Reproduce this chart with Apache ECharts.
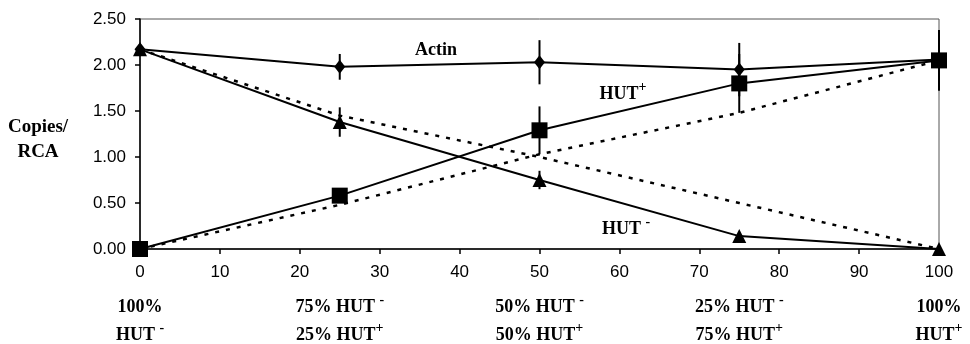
<!DOCTYPE html>
<html>
<head>
<meta charset="utf-8">
<script src="https://cdn.jsdelivr.net/npm/echarts@6.0.0/dist/echarts.min.js"></script>
<style>
  html, body { margin: 0; padding: 0; background: #fff; }
  #chart { width: 970px; height: 344px; }
</style>
</head>
<body>
<div id="chart"></div>
<script>
// mixing ratio (% HUT+) on the x axis
const xValues = [0, 25, 50, 75, 100];

// measured copies / RCA
const actin = [2.17, 1.98, 2.03, 1.95, 2.06];
const actinErr = [0, 0.14, 0.24, 0.29, 0];
const hutPlus = [0.00, 0.58, 1.29, 1.80, 2.05];
const hutPlusErr = [0, 0.06, 0.26, 0.32, 0.33];
const hutMinus = [2.17, 1.38, 0.75, 0.14, 0.00];
const hutMinusErr = [0, 0.16, 0.10, 0, 0];

// expected (dotted) lines
const expectedPlus = [0.00, 0.48, 1.03, 1.48, 2.05];
const expectedMinus = [2.17, 1.45, 1.00, 0.50, 0.00];

// composition labels under the axis
const mixTop = ['{b|100%}', '{b|75% HUT }{s|-}', '{b|50% HUT }{s|-}', '{b|25% HUT }{s|-}', '{b|100%}'];
const mixBottom = ['{b|HUT }{s|-}', '{b|25% HUT}{s|+}', '{b|50% HUT}{s|+}', '{b|75% HUT}{s|+}', '{b|HUT}{s|+}'];

const serif = '"Liberation Serif", "Times New Roman", serif';
const sans = '"Liberation Sans", Arial, sans-serif';

const richSup = {
    b: { fontFamily: serif, fontWeight: 'bold', fontSize: 18, lineHeight: 28, color: '#000' },
    s: { fontFamily: serif, fontWeight: 'bold', fontSize: 14, lineHeight: 8, verticalAlign: 'top', color: '#000' }
};

function pairs(ys) {
    return xValues.map((x, i) => [x, ys[i]]);
}

function errData(ys, errs) {
    const out = [];
    for (let i = 0; i < xValues.length; i++) {
        if (errs[i] > 0) out.push([xValues[i], ys[i] - errs[i], ys[i] + errs[i]]);
    }
    return out;
}

function errorSeries(ys, errs) {
    return {
        type: 'custom',
        xAxisIndex: 0,
        data: errData(ys, errs),
        z: 3,
        renderItem: function (params, api) {
            const x = api.value(0);
            const lo = api.coord([x, api.value(1)]);
            const hi = api.coord([x, api.value(2)]);
            return {
                type: 'line',
                shape: { x1: lo[0], y1: lo[1], x2: hi[0], y2: hi[1] },
                style: { stroke: '#000', lineWidth: 2 }
            };
        }
    };
}

function solidLine(ys, symbol, size) {
    return {
        type: 'line',
        xAxisIndex: 0,
        data: pairs(ys),
        symbol: symbol,
        symbolSize: size,
        showSymbol: true,
        z: 4,
        lineStyle: { color: '#000', width: 2 },
        itemStyle: { color: '#000', borderWidth: 0 }
    };
}

function dottedLine(ys) {
    return {
        type: 'line',
        xAxisIndex: 0,
        data: pairs(ys),
        symbol: 'none',
        z: 2,
        lineStyle: { color: '#000', width: 2.5, type: [4, 7] }
    };
}

const chart = echarts.init(document.getElementById('chart'));

chart.setOption({
    animation: false,
    backgroundColor: '#fff',
    grid: {
        left: 140, right: 31, top: 19, bottom: 95,
        show: true, borderColor: '#555', borderWidth: 1
    },
    xAxis: [
        {
            type: 'value', min: 0, max: 100, interval: 10,
            axisLine: { lineStyle: { color: '#000', width: 1.5 } },
            axisTick: { show: true, length: 5, lineStyle: { color: '#000', width: 1.5 } },
            splitLine: { show: false },
            axisLabel: { fontFamily: sans, fontSize: 17, color: '#000', margin: 15 }
        },
        {
            type: 'value', min: 0, max: 100, interval: 25, position: 'bottom',
            axisLine: { show: false },
            axisTick: { show: false },
            splitLine: { show: false },
            axisLabel: {
                margin: 44,
                showMinLabel: true, showMaxLabel: true,
                formatter: function (v) {
                    const i = xValues.indexOf(v);
                    return i < 0 ? '' : mixTop[i] + '\n' + mixBottom[i];
                },
                rich: richSup
            }
        }
    ],
    yAxis: {
        type: 'value', min: 0, max: 2.5, interval: 0.5,
        axisLine: { show: true, lineStyle: { color: '#000', width: 1.5 } },
        axisTick: { show: true, length: 5, lineStyle: { color: '#000', width: 1.5 } },
        splitLine: { show: false },
        axisLabel: {
            fontFamily: sans, fontSize: 17, color: '#000', margin: 14,
            formatter: v => v.toFixed(2)
        }
    },
    graphic: [
        {
            type: 'text', x: 38, y: 140,
            style: {
                text: 'Copies/\nRCA', align: 'center', verticalAlign: 'middle',
                font: 'bold 19px ' + serif, lineHeight: 25, fill: '#000'
            }
        },
        {
            type: 'text', x: 436, y: 50,
            style: { text: 'Actin', align: 'center', verticalAlign: 'middle', font: 'bold 18px ' + serif, fill: '#000' }
        },
        {
            type: 'text', x: 623, y: 94,
            style: { text: '{b|HUT}{s|+}', rich: richSup, align: 'center', verticalAlign: 'middle' }
        },
        {
            type: 'text', x: 626, y: 229,
            style: { text: '{b|HUT }{s|-}', rich: richSup, align: 'center', verticalAlign: 'middle' }
        }
    ],
    series: [
        dottedLine(expectedMinus),
        dottedLine(expectedPlus),
        errorSeries(actin, actinErr),
        errorSeries(hutMinus, hutMinusErr),
        errorSeries(hutPlus, hutPlusErr),
        solidLine(actin, 'diamond', [11, 14]),
        solidLine(hutMinus, 'triangle', 14),
        solidLine(hutPlus, 'rect', 16)
    ]
});
</script>
</body>
</html>
